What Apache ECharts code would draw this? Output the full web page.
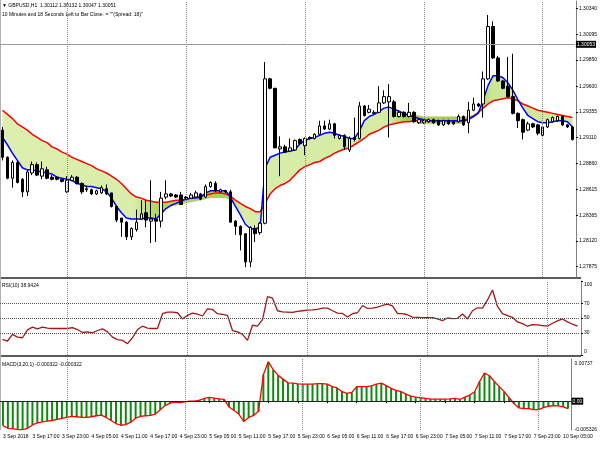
<!DOCTYPE html>
<html><head><meta charset="utf-8">
<script src="https://cdn.jsdelivr.net/npm/echarts/dist/echarts.min.js"></script>
<style>html,body{margin:0;padding:0;background:#fff}#c{width:600px;height:450px}</style>
</head><body><div id="c"></div>
<script>
// ---- categories (H1 bars) ----
const dayHours = [[3,11,23],[4,0,23],[5,0,23],[6,0,23],[7,0,23],[10,0,6]];
const categories = [];
dayHours.forEach(([d,h0,h1]) => { for (let h = h0; h <= h1; h++) categories.push(d + ' Sep ' + String(h).padStart(2,'0') + ':00'); });
const tickLabels = ['3 Sep 2018','3 Sep 17:00','3 Sep 23:00','4 Sep 05:00','4 Sep 11:00','4 Sep 17:00','4 Sep 23:00','5 Sep 05:00','5 Sep 11:00','5 Sep 17:00','5 Sep 23:00','6 Sep 05:00','6 Sep 11:00','6 Sep 17:00','6 Sep 23:00','7 Sep 05:00','7 Sep 11:00','7 Sep 17:00','7 Sep 23:00','10 Sep 05:00'];
const daySeparators = [13,37,61,85,109];

// ---- OHLC ----
const open  = [1.2918,1.2892,1.2872,1.2887,1.2871,1.2859,1.2877,1.2885,1.2874,1.2880,1.2873,1.2873,1.2871,1.2859,1.2870,1.2873,1.2867,1.2861,1.2861,1.2857,1.2858,1.2862,1.2858,1.2845,1.2834,1.2830,1.2816,1.2823,1.2833,1.2839,1.2831,1.2833,1.2831,1.2854,1.2857,1.2856,1.2856,1.2854,1.2853,1.2854,1.2857,1.2854,1.2864,1.2867,1.2859,1.2860,1.2859,1.2831,1.2826,1.2819,1.2792,1.2824,1.2820,1.2829,1.2967,1.2958,1.2900,1.2902,1.2898,1.2899,1.2909,1.2903,1.2911,1.2910,1.2914,1.2922,1.2919,1.2924,1.2910,1.2913,1.2899,1.2911,1.2910,1.2941,1.2935,1.2934,1.2935,1.2944,1.2945,1.2945,1.2931,1.2935,1.2931,1.2935,1.2925,1.2925,1.2926,1.2928,1.2927,1.2923,1.2927,1.2926,1.2926,1.2931,1.2925,1.2937,1.2943,1.2943,1.2967,1.3017,1.2987,1.2965,1.2960,1.2950,1.2934,1.2928,1.2918,1.2924,1.2923,1.2913,1.2921,1.2926,1.2927,1.2931,1.2923,1.2921];
const close = [1.2892,1.2872,1.2887,1.2868,1.2859,1.2878,1.2885,1.2875,1.2881,1.2872,1.2871,1.2871,1.2869,1.2870,1.2873,1.2867,1.2859,1.2862,1.2857,1.2860,1.2863,1.2857,1.2845,1.2832,1.2830,1.2816,1.2824,1.2830,1.2838,1.2832,1.2833,1.2831,1.2853,1.2857,1.2855,1.2854,1.2847,1.2853,1.2856,1.2858,1.2852,1.2864,1.2868,1.2860,1.2861,1.2859,1.2830,1.2826,1.2818,1.2792,1.2825,1.2819,1.2829,1.2967,1.2958,1.2901,1.2902,1.2897,1.2901,1.2908,1.2905,1.2910,1.2910,1.2914,1.2922,1.2919,1.2924,1.2913,1.2913,1.2902,1.2910,1.2909,1.2941,1.2932,1.2938,1.2935,1.2944,1.2950,1.2950,1.2931,1.2935,1.2931,1.2935,1.2926,1.2928,1.2927,1.2928,1.2925,1.2923,1.2927,1.2924,1.2924,1.2931,1.2923,1.2937,1.2943,1.2941,1.2967,1.3017,1.2987,1.2965,1.2958,1.2950,1.2934,1.2927,1.2916,1.2924,1.2921,1.2915,1.2921,1.2928,1.2930,1.2931,1.2923,1.2921,1.2909];
const low   = [1.2889,1.2871,1.2863,1.2867,1.2854,1.2855,1.2875,1.2874,1.2871,1.2871,1.2870,1.2870,1.2868,1.2858,1.2869,1.2866,1.2857,1.2859,1.2856,1.2856,1.2857,1.2856,1.2844,1.2830,1.2816,1.2813,1.2813,1.2821,1.2832,1.2825,1.2810,1.2811,1.2825,1.2852,1.2854,1.2853,1.2847,1.2852,1.2852,1.2853,1.2851,1.2853,1.2863,1.2859,1.2858,1.2858,1.2830,1.2818,1.2803,1.2787,1.2787,1.2811,1.2818,1.2828,1.2957,1.2901,1.2874,1.2896,1.2897,1.2898,1.2904,1.2894,1.2909,1.2909,1.2913,1.2918,1.2918,1.2910,1.2909,1.2899,1.2897,1.2907,1.2909,1.2931,1.2934,1.2933,1.2934,1.2943,1.2911,1.2930,1.2930,1.2930,1.2930,1.2925,1.2924,1.2924,1.2925,1.2924,1.2922,1.2922,1.2923,1.2923,1.2925,1.2922,1.2915,1.2936,1.2940,1.2930,1.2966,1.2986,1.2964,1.2957,1.2949,1.2933,1.2920,1.2909,1.2917,1.2920,1.2913,1.2912,1.2920,1.2925,1.2926,1.2922,1.2920,1.2908];
const high  = [1.2921,1.2893,1.2889,1.2889,1.2872,1.2880,1.2888,1.2887,1.2888,1.2883,1.2875,1.2874,1.2871,1.2874,1.2875,1.2874,1.2868,1.2865,1.2862,1.2861,1.2865,1.2866,1.2858,1.2846,1.2834,1.2831,1.2825,1.2842,1.2851,1.2851,1.2870,1.2838,1.2859,1.2870,1.2858,1.2857,1.2859,1.2855,1.2858,1.2860,1.2858,1.2866,1.2869,1.2869,1.2862,1.2861,1.2861,1.2832,1.2827,1.2819,1.2826,1.2827,1.2830,1.2983,1.2968,1.2958,1.2912,1.2904,1.2910,1.2909,1.2910,1.2911,1.2912,1.2915,1.2927,1.2927,1.2928,1.2925,1.2914,1.2914,1.2912,1.2930,1.2945,1.2942,1.2942,1.2937,1.2960,1.2956,1.2962,1.2947,1.2937,1.2936,1.2944,1.2936,1.2929,1.2928,1.2929,1.2929,1.2928,1.2928,1.2928,1.2927,1.2933,1.2932,1.2945,1.2949,1.2944,1.2974,1.3028,1.3022,1.2989,1.2966,1.2988,1.2991,1.2935,1.2929,1.2926,1.2925,1.2924,1.2922,1.2929,1.2931,1.2932,1.2932,1.2924,1.2922];

// ---- moving-average ribbon: fastest (blue) and slowest (red) lines ----
const maFast = [1.2911,1.2904,1.2896,1.2889,1.2882,1.2880,1.2880,1.2879,1.2878,1.2877,1.2876,1.2873,1.2872,1.2871,1.2870,1.2867,1.2866,1.2864,1.2864,1.2863,1.2862,1.2859,1.2853,1.2845,1.2839,1.2834,1.2833,1.2833,1.2833,1.2834,1.2834,1.2833,1.2838,1.2843,1.2846,1.2848,1.2850,1.2852,1.2853,1.2853,1.2854,1.2858,1.2860,1.2860,1.2860,1.2860,1.2854,1.2845,1.2837,1.2828,1.2824,1.2823,1.2826,1.2882,1.2892,1.2894,1.2896,1.2897,1.2898,1.2899,1.2905,1.2908,1.2910,1.2911,1.2913,1.2915,1.2916,1.2915,1.2913,1.2912,1.2910,1.2910,1.2917,1.2927,1.2931,1.2933,1.2936,1.2939,1.2940,1.2938,1.2936,1.2934,1.2932,1.2931,1.2929,1.2928,1.2927,1.2927,1.2927,1.2927,1.2927,1.2927,1.2927,1.2927,1.2928,1.2931,1.2934,1.2947,1.2961,1.2970,1.2970,1.2968,1.2963,1.2956,1.2947,1.2939,1.2932,1.2929,1.2926,1.2925,1.2925,1.2926,1.2927,1.2927,1.2926,1.2921];
const maSlow = [1.2937,1.2933,1.2929,1.2924,1.2921,1.2918,1.2914,1.2911,1.2908,1.2906,1.2902,1.2900,1.2897,1.2895,1.2892,1.2890,1.2888,1.2886,1.2884,1.2881,1.2879,1.2877,1.2874,1.2871,1.2867,1.2862,1.2857,1.2854,1.2853,1.2851,1.2850,1.2849,1.2849,1.2849,1.2850,1.2851,1.2851,1.2852,1.2853,1.2854,1.2855,1.2856,1.2857,1.2858,1.2858,1.2857,1.2855,1.2851,1.2848,1.2845,1.2843,1.2840,1.2840,1.2848,1.2857,1.2862,1.2865,1.2867,1.2870,1.2875,1.2880,1.2883,1.2885,1.2887,1.2888,1.2891,1.2893,1.2896,1.2898,1.2900,1.2901,1.2904,1.2907,1.2910,1.2914,1.2916,1.2918,1.2921,1.2923,1.2924,1.2925,1.2926,1.2926,1.2927,1.2927,1.2927,1.2927,1.2927,1.2927,1.2927,1.2927,1.2927,1.2927,1.2927,1.2929,1.2931,1.2935,1.2939,1.2943,1.2946,1.2947,1.2948,1.2949,1.2948,1.2946,1.2943,1.2941,1.2939,1.2937,1.2936,1.2935,1.2934,1.2933,1.2932,1.2931,1.2930];
// where the intermediate averages stick out beyond both edge lines: [bar index, price]
const ribbonTopOutliers = [[83,1.2933],[84,1.2932],[85,1.2931],[86,1.2931],[87,1.2931],[88,1.2931],[89,1.2931],[90,1.2931],[91,1.2931],[92,1.2931],[93,1.2931],[94,1.2931],[95,1.2933],[96,1.2935]];
const ribbonBottomOutliers = [[32,1.2845],[33,1.2845],[34,1.2846],[35,1.2846],[36,1.2847],[37,1.2848],[38,1.2849],[39,1.2850],[40,1.2851],[41,1.2852],[42,1.2853],[43,1.2853],[44,1.2853],[45,1.2853],[46,1.2851],[84,1.2924],[85,1.2924],[86,1.2924],[87,1.2924],[88,1.2924],[89,1.2924],[90,1.2924],[91,1.2924],[92,1.2924],[93,1.2924]];

// ---- RSI(10) ----
const rsi = [21.1,18.9,27.8,24.2,23.3,34.0,37.6,35.3,37.6,36.2,35.8,35.8,35.8,35.8,37.1,34.4,30.4,31.3,30.0,33.1,35.3,31.3,24.2,20.7,19.8,15.3,23.3,34.4,38.9,36.2,35.8,35.8,55.8,58.0,58.0,57.1,48.7,53.6,56.7,55.3,52.7,62.4,61.6,55.8,54.9,53.6,33.1,31.3,27.8,19.8,40.2,38.9,47.8,78.9,76.7,59.8,58.4,58.0,57.6,58.9,59.8,60.7,61.1,61.6,63.3,63.3,59.8,56.7,56.2,51.3,55.8,57.1,66.9,62.9,63.3,64.7,66.9,68.7,66.4,55.8,55.8,54.4,51.3,50.9,50.4,50.4,50.4,48.7,46.4,50.0,49.1,49.6,55.3,48.7,59.8,63.8,63.3,74.4,87.8,65.6,55.8,53.1,50.9,44.7,42.4,38.9,41.1,40.7,39.8,38.9,42.9,46.0,48.7,44.7,41.6,38.9];
const rsiLevels = [30, 50, 70];

// ---- MACD(3,20,1) (signal period 1 = same values) ----
const macd = [-0.00457,-0.00508,-0.00514,-0.00533,-0.00533,-0.00508,-0.00445,-0.00406,-0.00387,-0.00375,-0.00362,-0.00343,-0.00324,-0.00305,-0.00286,-0.00292,-0.00305,-0.00305,-0.00292,-0.00273,-0.00260,-0.00305,-0.00362,-0.00419,-0.00451,-0.00438,-0.00394,-0.00318,-0.00286,-0.00273,-0.00267,-0.00241,-0.00159,-0.00083,-0.00038,-0.00019,-0.00025,-0.00013,0.00000,0.00002,0.00019,0.00051,0.00070,0.00057,0.00044,0.00032,-0.00108,-0.00171,-0.00241,-0.00381,-0.00305,-0.00267,-0.00191,0.00495,0.00737,0.00591,0.00483,0.00413,0.00343,0.00337,0.00324,0.00318,0.00318,0.00318,0.00330,0.00330,0.00318,0.00273,0.00248,0.00178,0.00146,0.00165,0.00273,0.00273,0.00273,0.00286,0.00318,0.00337,0.00292,0.00241,0.00203,0.00178,0.00133,0.00095,0.00076,0.00064,0.00051,0.00038,0.00038,0.00038,0.00038,0.00044,0.00051,0.00032,0.00076,0.00114,0.00178,0.00368,0.00527,0.00476,0.00368,0.00273,0.00178,0.00064,-0.00044,-0.00127,-0.00140,-0.00140,-0.00159,-0.00159,-0.00121,-0.00095,-0.00083,-0.00089,-0.00108,-0.00140];
const macdSignal = macd;

// ---- axis labels ----
const priceLabels = [1.27875,1.28120,1.28365,1.28615,1.28860,1.29110,1.29355,1.29600,1.29850,1.30095,1.30340];
const bidPrice = 1.30053;
const rsiLabels = [0, 30, 50, 70, 100];
const macdLabels = [-0.005326, 0.00737];

const FONT = 'Liberation Sans';
const FS = 5;
const candles = open.map((o, i) => [o, close[i], low[i], high[i]]);
const topOut = new Map(ribbonTopOutliers), botOut = new Map(ribbonBottomOutliers);
const ribbonHigh = maFast.map((v, i) => Math.max(v, maSlow[i], topOut.has(i) ? topOut.get(i) : -Infinity));
const ribbonLow = maFast.map((v, i) => Math.min(v, maSlow[i], botOut.has(i) ? botOut.get(i) : Infinity));
const ribbonSpan = ribbonHigh.map((v, i) => +(v - ribbonLow[i]).toFixed(5));
const sepLines = daySeparators.map(i => ({ xAxis: categories[i] }));
const dotted = { type: 'dotted', color: '#8a8a8a', width: 1 };
const ribbonFill = new echarts.graphic.LinearGradient(0, 0, 1, 0, [
  { offset: 0, color: '#ddefb0' }, { offset: 0.23, color: '#d9edaa' },
  { offset: 0.27, color: '#b3d462' }, { offset: 0.39, color: '#a8cf55' },
  { offset: 0.42, color: '#d7eca8' }, { offset: 0.68, color: '#d5eba4' },
  { offset: 0.71, color: '#a6cb4e' }, { offset: 0.83, color: '#a6cb4e' },
  { offset: 0.86, color: '#cde696' }, { offset: 1, color: '#d3e9a0' }
]);

const chart = echarts.init(document.getElementById('c'), null, { renderer: 'canvas' });
const grids = [
  { left: 0, top: 1, width: 580, height: 276 },
  { left: 0, top: 281, width: 580, height: 74 },
  { left: 0, top: 359, width: 580, height: 71 }
];
const xAxes = grids.map((g, k) => ({
  type: 'category', gridIndex: k, data: categories, boundaryGap: true,
  axisLine: { show: k === 2, lineStyle: { color: '#000', width: 1 } },
  axisTick: { show: k === 2, interval: 5, alignWithLabel: true, length: 2, lineStyle: { color: '#000' } },
  axisLabel: { show: k === 2, interval: 5, align: 'left', margin: 4, fontSize: FS, fontFamily: FONT, color: '#000',
    formatter: (v, idx) => tickLabels[idx / 6] !== undefined ? tickLabels[idx / 6] : v },
  splitLine: { show: false }
}));
const yCommon = { position: 'right', offset: 1, axisLine: { show: true, lineStyle: { color: '#808080' } },
  splitLine: { show: false } };
const yAxes = [
  Object.assign({}, yCommon, { type: 'value', gridIndex: 0, min: 1.27776, max: 1.30414,
    axisTick: { show: true, length: 2, customValues: priceLabels, lineStyle: { color: '#000' } },
    axisLabel: { customValues: priceLabels, formatter: v => v.toFixed(5), fontSize: FS, fontFamily: FONT, color: '#000', margin: 3 } }),
  Object.assign({}, yCommon, { type: 'value', gridIndex: 1, min: 0, max: 100,
    axisTick: { show: true, length: 2, customValues: rsiLabels, lineStyle: { color: '#000' } },
    axisLabel: { customValues: rsiLabels, fontSize: FS, fontFamily: FONT, color: '#000', margin: 3,
      formatter: v => v === 100 ? '{t|100}' : (v === 0 ? '{b|0}' : String(v)),
      rich: { t: { padding: [7,0,0,0], fontSize: FS, fontFamily: FONT }, b: { padding: [0,0,7,0], fontSize: FS, fontFamily: FONT } } } }),
  Object.assign({}, yCommon, { type: 'value', gridIndex: 2, min: -0.0054, max: 0.0079,
    axisTick: { show: false },
    axisLabel: { customValues: macdLabels, fontSize: FS, fontFamily: FONT, color: '#000', margin: 3,
      formatter: v => v > 0 ? '{t|' + v.toFixed(5) + '}' : '{b|' + v.toFixed(6) + '}',
      rich: { t: { padding: [4,0,0,0], fontSize: FS, fontFamily: FONT }, b: { padding: [0,0,0,0], fontSize: FS, fontFamily: FONT } } } })
];

const option = {
  animation: false,
  backgroundColor: '#ffffff',
  grid: grids,
  xAxis: xAxes,
  yAxis: yAxes,
  graphic: [
    { type: 'rect', shape: { x: 0, y: 277, width: 581, height: 2 }, style: { fill: '#5a5a5a' }, silent: true },
    { type: 'rect', shape: { x: 0, y: 355, width: 581, height: 2 }, style: { fill: '#5a5a5a' }, silent: true },
    { type: 'line', shape: { x1: 0.5, y1: 0, x2: 0.5, y2: 430 }, style: { stroke: '#b0b0b0', lineWidth: 1 }, silent: true },
    { type: 'text', left: 2, top: 3, style: { text: '\u25BC GBPUSD,H1  1.30112 1.30132 1.30047 1.30051', fontSize: FS, fontFamily: FONT, fill: '#000' } },
    { type: 'text', left: 2, top: 12, style: { text: '10 Minutes and 18 Seconds Left to Bar Close. = ""(Spread: 18)"', fontSize: FS, fontFamily: FONT, fill: '#000' } },
    { type: 'text', left: 2, top: 283, style: { text: 'RSI(10) 38.9424', fontSize: FS, fontFamily: FONT, fill: '#000' } },
    { type: 'text', left: 2, top: 362, style: { text: 'MACD(3,20,1) -0.000322 -0.000322', fontSize: FS, fontFamily: FONT, fill: '#000' } }
  ],
  series: [
    { name: 'ribbonBase', type: 'line', xAxisIndex: 0, yAxisIndex: 0, data: ribbonLow, stack: 'rib', stackStrategy: 'all',
      symbol: 'none', lineStyle: { opacity: 0 }, silent: true, z: 1 },
    { name: 'ribbon', type: 'line', xAxisIndex: 0, yAxisIndex: 0, data: ribbonSpan, stack: 'rib', stackStrategy: 'all',
      symbol: 'none', lineStyle: { opacity: 0 }, areaStyle: { color: ribbonFill, opacity: 1 }, silent: true, z: 1 },
    { name: 'maSlow', type: 'line', xAxisIndex: 0, yAxisIndex: 0, data: maSlow, symbol: 'none',
      lineStyle: { color: '#ff0000', width: 1.5 }, z: 2 },
    { name: 'maFast', type: 'line', xAxisIndex: 0, yAxisIndex: 0, data: maFast, symbol: 'none',
      lineStyle: { color: '#0000ff', width: 1.5 }, z: 2 },
    { name: 'price', type: 'candlestick', xAxisIndex: 0, yAxisIndex: 0, data: candles, barWidth: 3, z: 3,
      itemStyle: { color: '#ffffff', color0: '#000000', borderColor: '#000000', borderColor0: '#000000', borderWidth: 1 },
      markLine: { silent: true, symbol: 'none', animation: false,
        data: sepLines.map(d => Object.assign({ lineStyle: dotted, label: { show: false } }, d)).concat([
          { yAxis: bidPrice, lineStyle: { color: '#9a9a9a', type: 'solid', width: 1 },
            label: { show: true, position: 'end', distance: 1, formatter: bidPrice.toFixed(5), backgroundColor: '#000', color: '#fff',
              padding: [1, 1], fontSize: FS, fontFamily: FONT } }
        ]) } },
    { name: 'rsi', type: 'line', xAxisIndex: 1, yAxisIndex: 1, data: rsi, symbol: 'none',
      lineStyle: { color: '#a01818', width: 1.3 }, z: 3,
      markLine: { silent: true, symbol: 'none', animation: false,
        data: sepLines.map(d => Object.assign({ lineStyle: dotted, label: { show: false } }, d)).concat(
          rsiLevels.map(v => ({ yAxis: v, lineStyle: { type: 'dotted', color: '#555', width: 1 }, label: { show: false } }))) } },
    { name: 'macd', type: 'bar', xAxisIndex: 2, yAxisIndex: 2, data: macd, barWidth: 2,
      itemStyle: { color: '#0e8a0e' }, z: 2,
      markLine: { silent: true, symbol: 'none', animation: false,
        data: sepLines.map(d => Object.assign({ lineStyle: dotted, label: { show: false } }, d)).concat([
          { yAxis: 0, lineStyle: { type: 'solid', color: '#222', width: 1 },
            label: { show: true, position: 'end', distance: 1, formatter: '0.00', backgroundColor: '#000', color: '#fff', padding: [1, 1], fontSize: FS, fontFamily: FONT } }
        ]) } },
    { name: 'signal', type: 'line', xAxisIndex: 2, yAxisIndex: 2, data: macdSignal, symbol: 'none',
      lineStyle: { color: '#ff0000', width: 1.3 }, z: 3 }
  ]
};
chart.setOption(option);
</script>
</body></html>
